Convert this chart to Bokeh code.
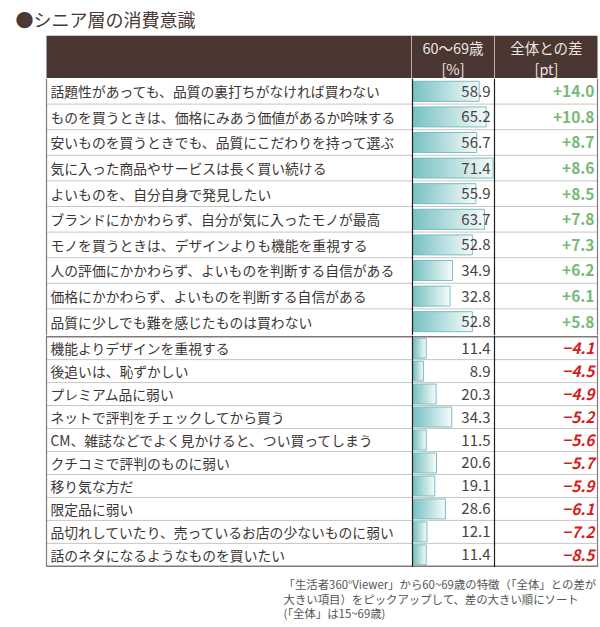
from bokeh.plotting import figure
from bokeh.models import Range1d, ColumnDataSource
from bokeh.layouts import column
from bokeh.core.properties import value
from bokeh.embed import file_html
from bokeh.resources import INLINE

# ---------------- data ----------------
title_text = "●シニア層の消費意識"
header_col1 = ["60〜69歳", "[%]"]
header_col2 = ["全体との差", "[pt]"]

labels_pos = [
    "話題性があっても、品質の裏打ちがなければ買わない",
    "ものを買うときは、価格にみあう価値があるか吟味する",
    "安いものを買うときでも、品質にこだわりを持って選ぶ",
    "気に入った商品やサービスは長く買い続ける",
    "よいものを、自分自身で発見したい",
    "ブランドにかかわらず、自分が気に入ったモノが最高",
    "モノを買うときは、デザインよりも機能を重視する",
    "人の評価にかかわらず、よいものを判断する自信がある",
    "価格にかかわらず、よいものを判断する自信がある",
    "品質に少しでも難を感じたものは買わない",
]
values_pos = [58.9, 65.2, 56.7, 71.4, 55.9, 63.7, 52.8, 34.9, 32.8, 52.8]
diff_pos = [14.0, 10.8, 8.7, 8.6, 8.5, 7.8, 7.3, 6.2, 6.1, 5.8]

labels_neg = [
    "機能よりデザインを重視する",
    "後追いは、恥ずかしい",
    "プレミアム品に弱い",
    "ネットで評判をチェックしてから買う",
    "CM、雑誌などでよく見かけると、つい買ってしまう",
    "クチコミで評判のものに弱い",
    "移り気な方だ",
    "限定品に弱い",
    "品切れしていたり、売っているお店の少ないものに弱い",
    "話のネタになるようなものを買いたい",
]
values_neg = [11.4, 8.9, 20.3, 34.3, 11.5, 20.6, 19.1, 28.6, 12.1, 11.4]
diff_neg = [-4.1, -4.5, -4.9, -5.2, -5.6, -5.7, -5.9, -6.1, -7.2, -8.5]

footnote_lines = [
    "「生活者360°Viewer」から60~69歳の特徴（「全体」との差が",
    "大きい項目）をピックアップして、差の大きい順にソート",
    "(「全体」は15~69歳)",
]

# ---------------- layout / style ----------------
W = 600
PXU = 1.115          # pixels per percent unit in the bar column
ZERO_PX = 413        # pixel where the bar value 0 sits
FONT = value("Noto Sans CJK JP")
HEADER_BG = "#4a3731"
BORDER = "#857974"
LABEL_COLOR = "#3d3634"
NUM_COLOR = "#4a4242"
GREEN = "#78b97a"
RED = "#d21f1f"


def X(px):
    """layout helper: pixel -> data x (bar value units)"""
    return (px - ZERO_PX) / PXU


def make_fig(h, yr):
    p = figure(width=W, height=h, output_backend="svg", toolbar_location=None,
               x_range=Range1d(-ZERO_PX / PXU, (W - ZERO_PX) / PXU), y_range=yr,
               x_axis_location=None, y_axis_location=None, min_border=0)
    p.grid.visible = False
    p.outline_line_color = None
    p.background_fill_color = "white"
    p.border_fill_color = "white"
    return p


# ---------------- title ----------------
pt = make_fig(35, Range1d(35, 0))
pt.text(x=[X(15)], y=[18], text=[title_text], text_font=FONT, text_font_size="18px",
        text_color="#4a3a33", text_baseline="middle", text_align="left")

# ---------------- header ----------------
ph = make_fig(43, Range1d(43, 0))
ph.quad(left=X(46), right=X(597), top=0, bottom=43, fill_color=HEADER_BG, line_color=None)
ph.segment(x0=[X(411), X(494)], y0=[0, 0], x1=[X(411), X(494)], y1=[43, 43],
           line_color="#b9afab", line_width=1)
ph.text(x=[X(452.5)] * 2, y=[12, 33], text=header_col1, text_font=FONT, text_font_size="14.5px",
        text_color="#ece6e2", text_align="center", text_baseline="middle")
ph.text(x=[X(546)] * 2, y=[12, 33], text=header_col2, text_font=FONT, text_font_size="14.5px",
        text_color="#ece6e2", text_align="center", text_baseline="middle")


def lerp_color(t):
    c0 = (122, 194, 195)
    c1 = (244, 250, 250)
    r, g, b = (round(a + (bb - a) * t) for a, bb in zip(c0, c1))
    return "#%02x%02x%02x" % (r, g, b)


def body(labels, vals, diffs, h, yr, row_px, top_line):
    p = make_fig(h, yr)
    n = len(labels)
    ys = [i + 0.5 for i in range(n)]
    bar_h = 20.0 / row_px
    # gradient bars: nested bars, widest (lightest) first, narrowest (darkest) on top
    N = 30
    R, Y, C = [], [], []
    for k in range(N, 0, -1):
        for y, v in zip(ys, vals):
            R.append(v * k / N)
            Y.append(y)
            C.append(lerp_color((k - 1) / (N - 1)))
    p.hbar(y=Y, left=0, right=R, height=bar_h, fill_color=C, line_color=None)
    p.hbar(y=ys, left=0, right=vals, height=bar_h, fill_color=None,
           line_color="#7cbfc0", line_width=1)
    # dotted row separators
    seps = list(range(1, n))
    p.segment(x0=[X(46)] * len(seps), y0=seps, x1=[X(597)] * len(seps), y1=seps,
              line_color="#8c8c8c", line_width=1, line_dash="1 1")
    # solid horizontal lines
    if top_line:
        p.segment(x0=[X(46)] * 2, y0=[0, n], x1=[X(597)] * 2, y1=[0, n],
                  line_color=BORDER, line_width=1.5)
    # vertical lines
    y0v, y1v = yr.end, yr.start
    p.segment(x0=[X(412), X(494)], y0=[y0v] * 2, x1=[X(412), X(494)], y1=[y1v] * 2,
              line_color="#1e1e1e", line_width=1.2)
    p.segment(x0=[X(46), X(597)], y0=[y0v] * 2, x1=[X(46), X(597)], y1=[y1v] * 2,
              line_color=BORDER, line_width=1.2)
    # texts
    src = ColumnDataSource(dict(
        y=ys, label=labels,
        val=["%.1f" % v for v in vals],
        diff=[("+%.1f" % d) if d >= 0 else ("−%.1f" % abs(d)) for d in diffs],
    ))
    p.text(x=X(50), y="y", text="label", source=src, text_font=FONT, text_font_size="13.8px",
           text_color=LABEL_COLOR, text_align="left", text_baseline="middle")
    p.text(x=X(490), y="y", text="val", source=src, text_font=FONT, text_font_size="15px",
           text_color=NUM_COLOR, text_align="right", text_baseline="middle")
    positive = diffs[0] >= 0
    p.text(x=X(594), y="y", text="diff", source=src, text_font=FONT, text_font_size="15.5px",
           text_color=GREEN if positive else RED, text_font_style="bold" if positive else "bold italic",
           text_align="right", text_baseline="middle")
    return p


pp = body(labels_pos, values_pos, diff_pos, 257, Range1d(10.04, 0), 25.6, False)
pn = body(labels_neg, values_neg, diff_neg, 232, Range1d(10.05, -0.05), 22.97, True)

# ---------------- footnote ----------------
pf = make_fig(60, Range1d(60, 0))
pf.text(x=[X(283)] * 3, y=[16, 31, 45], text=footnote_lines, text_font=FONT,
        text_font_size="11.4px", text_color="#555555", text_align="left", text_baseline="middle")

layout = column(pt, ph, pp, pn, pf, spacing=0)
open("out.html", "w").write(file_html(layout, INLINE))
